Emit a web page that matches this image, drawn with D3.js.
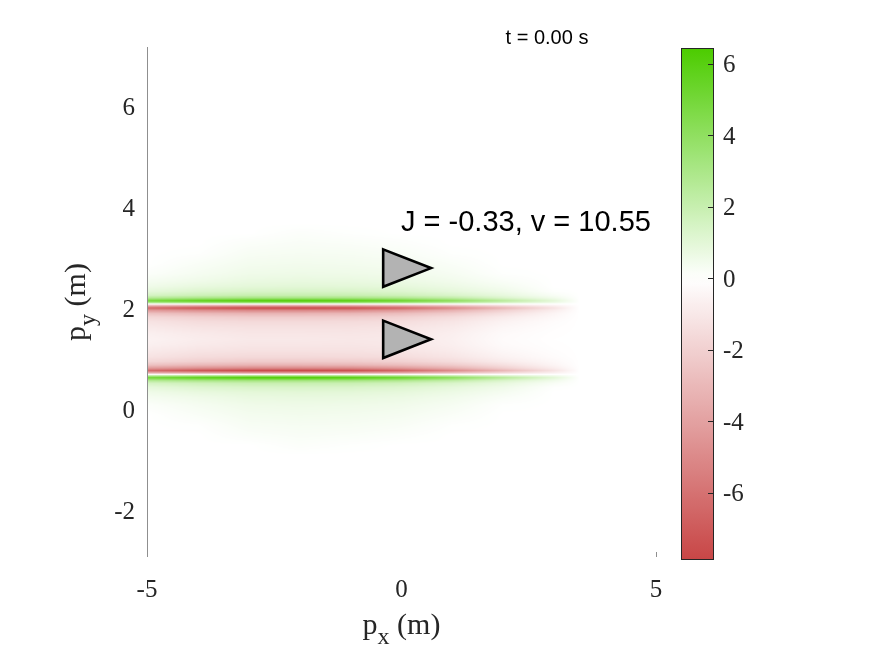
<!DOCTYPE html>
<html><head><meta charset="utf-8">
<script src="https://cdn.jsdelivr.net/npm/d3@7"></script>
<style>
body{margin:0;background:#fff}
#wrap{position:relative;width:875px;height:656px;background:#fff}
canvas,svg{position:absolute;left:0;top:0}
</style>
</head><body><div id="wrap"><canvas id="cv" width="875" height="656"></canvas><svg id="sv" width="875" height="656"></svg></div>
<script>
// ---------- data ----------
const xTicks = [-5, 0, 5];
const yTicks = [-2, 0, 2, 4, 6];
const cbTicks = [-6, -4, -2, 0, 2, 4, 6];
const xLimits = [-5, 5];
const yLimits = [-2.911, 7.188];
const colorLimits = [-7.86, 6.44];
const titleText = "t = 0.00 s";
const annotationText = "J = -0.33, v = 10.55";
const vehicleX = [0.1, 0.1];
const vehicleY = [2.81, 1.40];

// field sample grid (columns = x positions, rows = y positions)
const gridX = [-5, -4, -3, -2, -1, 0, 1, 2, 3, 3.5, 4, 5];
const gridY = [3.7, 3.5, 3.3, 3.1, 2.9, 2.7, 2.55, 2.45, 2.35, 2.27, 2.22, 2.16, 2.12, 2.10, 2.06, 2.02, 1.97, 1.91, 1.84, 1.75, 1.63, 1.51, 1.40,
               1.29, 1.17, 1.05, 0.96, 0.89, 0.83, 0.78, 0.74, 0.70, 0.68, 0.64, 0.58, 0.53, 0.45, 0.35, 0.25, 0.10, -0.10, -0.30, -0.50, -0.70, -0.90];
const fieldValues = [
  [0,0,0,0,0,0,0,0,0,0,0,0],
  [0,0,0,0.12,0.05,0,0,0,0,0,0,0],
  [0,0,0.15,0.22,0.18,0.1,0,0,0,0,0,0],
  [0,0.05,0.27,0.32,0.3,0.22,0.05,0,0,0,0,0],
  [0,0.2,0.4,0.45,0.42,0.35,0.18,0,0,0,0,0],
  [0.12,0.35,0.55,0.6,0.57,0.5,0.32,0.05,0,0,0,0],
  [0.35,0.55,0.75,0.8,0.77,0.68,0.48,0.2,0,0,0,0],
  [0.55,0.8,0.95,1.0,0.97,0.88,0.65,0.35,0,0,0,0],
  [0.9,1.2,1.35,1.4,1.35,1.2,0.9,0.55,0.05,0,0,0],
  [1.5,1.8,2.0,2.0,1.95,1.75,1.35,0.85,0.25,0,0,0],
  [2.6,3.0,3.2,3.2,3.1,2.8,2.2,1.3,0.5,0,0,0],
  [5.0,5.8,6.3,6.4,6.1,5.4,4.2,2.6,1.0,0,0,0],
  [2.4,2.8,3.0,3.0,2.9,2.6,2.0,1.2,0.5,0,0,0],
  [0,0,0,0,0,0,0,0,0,0,0,0],
  [-3.7,-4.2,-4.5,-4.5,-4.4,-3.9,-3.0,-1.8,-0.7,0,0,0],
  [-6.3,-7.2,-7.7,-7.75,-7.5,-6.6,-5.0,-3.1,-1.2,0,0,0],
  [-4.2,-4.7,-5.0,-5.0,-4.9,-4.3,-3.3,-2.0,-0.75,0,0,0],
  [-2.6,-3.0,-3.2,-3.2,-3.1,-2.8,-2.2,-1.35,-0.45,0,0,0],
  [-1.7,-2.0,-2.2,-2.2,-2.15,-1.95,-1.5,-0.85,-0.3,0,0,0],
  [-1.2,-1.5,-1.6,-1.6,-1.55,-1.45,-1.1,-0.55,-0.15,0,0,0],
  [-0.9,-1.15,-1.25,-1.25,-1.25,-1.15,-0.85,-0.35,-0.08,0,0,0],
  [-0.65,-0.9,-1.05,-1.05,-1.08,-1.0,-0.7,-0.22,-0.04,0,0,0],
  [-0.55,-0.8,-0.95,-0.95,-1.0,-0.95,-0.65,-0.18,-0.02,0,0,0],
  [-0.65,-0.9,-1.05,-1.05,-1.08,-1.0,-0.7,-0.22,-0.04,0,0,0],
  [-0.9,-1.15,-1.25,-1.25,-1.25,-1.15,-0.85,-0.35,-0.08,0,0,0],
  [-1.2,-1.5,-1.6,-1.6,-1.55,-1.45,-1.1,-0.55,-0.15,0,0,0],
  [-1.7,-2.0,-2.2,-2.2,-2.15,-1.95,-1.5,-0.85,-0.3,0,0,0],
  [-2.6,-3.0,-3.2,-3.2,-3.1,-2.8,-2.2,-1.35,-0.45,0,0,0],
  [-4.2,-4.7,-5.0,-5.0,-4.9,-4.3,-3.3,-2.0,-0.75,0,0,0],
  [-6.3,-7.2,-7.7,-7.75,-7.5,-6.6,-5.0,-3.1,-1.2,0,0,0],
  [-3.7,-4.2,-4.5,-4.5,-4.4,-3.9,-3.0,-1.8,-0.7,0,0,0],
  [0,0,0,0,0,0,0,0,0,0,0,0],
  [2.4,2.8,3.0,3.0,2.9,2.6,2.0,1.2,0.5,0,0,0],
  [5.0,5.8,6.3,6.4,6.1,5.4,4.2,2.6,1.0,0,0,0],
  [2.6,3.0,3.2,3.2,3.1,2.8,2.2,1.3,0.5,0,0,0],
  [1.5,1.8,2.0,2.0,1.95,1.75,1.35,0.85,0.25,0,0,0],
  [0.9,1.2,1.35,1.4,1.35,1.2,0.9,0.55,0.05,0,0,0],
  [0.55,0.8,0.95,1.0,0.97,0.88,0.65,0.35,0,0,0,0],
  [0.35,0.55,0.75,0.8,0.77,0.68,0.48,0.2,0,0,0,0],
  [0.12,0.35,0.55,0.6,0.57,0.5,0.32,0.05,0,0,0,0],
  [0,0.2,0.4,0.45,0.42,0.35,0.18,0,0,0,0,0],
  [0,0.05,0.27,0.32,0.3,0.22,0.05,0,0,0,0,0],
  [0,0,0.15,0.22,0.18,0.1,0,0,0,0,0,0],
  [0,0,0,0.12,0.05,0,0,0,0,0,0,0],
  [0,0,0,0,0,0,0,0,0,0,0,0]
];

// ---------- layout ----------
const plotL = 147, plotR = 656, plotT = 47, plotB = 557;
const cbL = 681, cbR = 713, cbT = 48, cbB = 559;
const tickFont = "'Liberation Serif','Times New Roman',serif";
const sansFont = "'Liberation Sans',Arial,Helvetica,sans-serif";

const x = d3.scaleLinear().domain(xLimits).range([plotL, plotR]);
const y = d3.scaleLinear().domain(yLimits).range([plotB, plotT]);
const color = d3.scaleLinear().domain([colorLimits[0], 0, colorLimits[1]])
  .range(["#c84646", "#ffffff", "#4ccc00"]).clamp(true);
const cbScale = d3.scaleLinear().domain(colorLimits).range([cbB, cbT]);

// ---------- field (bilinear shading of sampled grid) ----------
function fieldAt(xv, yv) {
  const nx = gridX.length, ny = gridY.length;
  if (xv < gridX[0] || xv > gridX[nx - 1] || yv > gridY[0] || yv < gridY[ny - 1]) return 0;
  let j = d3.bisectRight(gridX, xv) - 1; if (j >= nx - 1) j = nx - 2; if (j < 0) j = 0;
  let i = 0; while (i < ny - 2 && gridY[i + 1] >= yv) i++;
  const tx = (xv - gridX[j]) / (gridX[j + 1] - gridX[j]);
  const ty = (gridY[i] - yv) / (gridY[i] - gridY[i + 1]);
  const f = fieldValues;
  return (1 - tx) * (1 - ty) * f[i][j] + tx * (1 - ty) * f[i][j + 1] +
         (1 - tx) * ty * f[i + 1][j] + tx * ty * f[i + 1][j + 1];
}
const ctx = document.getElementById("cv").getContext("2d");
ctx.fillStyle = "#fff"; ctx.fillRect(0, 0, 875, 656);
const w = plotR - plotL, h = plotB - plotT;
const img = ctx.createImageData(w, h);
for (let py = 0; py < h; py++) {
  const yv = y.invert(plotT + py + 0.5);
  for (let px = 0; px < w; px++) {
    const xv = x.invert(plotL + px + 0.5);
    const c = d3.rgb(color(fieldAt(xv, yv)));
    const k = (py * w + px) * 4;
    img.data[k] = c.r; img.data[k + 1] = c.g; img.data[k + 2] = c.b; img.data[k + 3] = 255;
  }
}
ctx.putImageData(img, plotL, plotT);

// ---------- svg overlay ----------
const svg = d3.select("#sv");

// y axis line
svg.append("line").attr("x1", plotL + 0.5).attr("x2", plotL + 0.5).attr("y1", plotT).attr("y2", plotB)
  .attr("stroke", "#8f8f8f").attr("stroke-width", 1);
// small x tick at right end
svg.append("line").attr("x1", Math.round(x(5)) + 0.5).attr("x2", Math.round(x(5)) + 0.5)
  .attr("y1", plotB - 5).attr("y2", plotB).attr("stroke", "#8f8f8f");

svg.append("g").selectAll("text").data(yTicks).join("text")
  .attr("x", plotL - 12).attr("y", d => y(d) + 8.5)
  .attr("text-anchor", "end").attr("font-family", tickFont).attr("font-size", 25).attr("fill", "#262626")
  .text(d => d);
svg.append("g").selectAll("text").data(xTicks).join("text")
  .attr("x", d => x(d)).attr("y", 597)
  .attr("text-anchor", "middle").attr("font-family", tickFont).attr("font-size", 25).attr("fill", "#262626")
  .text(d => d);

// axis labels
const xl = svg.append("text").attr("x", x(0)).attr("y", 634).attr("text-anchor", "middle")
  .attr("font-family", tickFont).attr("font-size", 30).attr("fill", "#262626");
xl.append("tspan").text("p");
xl.append("tspan").attr("dy", 10).attr("font-size", 24).text("x");
xl.append("tspan").attr("dy", -10).text(" (m)");

const yl = svg.append("text").attr("transform", `translate(85,${(plotT + plotB) / 2}) rotate(-90)`)
  .attr("text-anchor", "middle").attr("font-family", tickFont).attr("font-size", 30).attr("fill", "#262626");
yl.append("tspan").text("p");
yl.append("tspan").attr("dy", 10).attr("font-size", 24).text("y");
yl.append("tspan").attr("dy", -10).text(" (m)");

// vehicles (triangles)
const triBack = 0.46, triFront = 0.48, triHalf = 0.37;
svg.append("g").selectAll("path").data(vehicleX.map((vx, k) => ({ vx, vy: vehicleY[k] }))).join("path")
  .attr("d", d => `M${x(d.vx - triBack)},${y(d.vy + triHalf)}L${x(d.vx + triFront)},${y(d.vy)}L${x(d.vx - triBack)},${y(d.vy - triHalf)}Z`)
  .attr("fill", "#b3b3b3").attr("stroke", "#000").attr("stroke-width", 2.6).attr("stroke-linejoin", "miter");

// annotation and title
svg.append("text").attr("x", 401).attr("y", 231).attr("font-family", sansFont).attr("font-size", 29)
  .attr("fill", "#000").text(annotationText);
svg.append("text").attr("x", 547).attr("y", 44).attr("text-anchor", "middle").attr("font-family", sansFont)
  .attr("font-size", 20).attr("fill", "#000").text(titleText);

// colorbar
const defs = svg.append("defs");
const grad = defs.append("linearGradient").attr("id", "cbg").attr("x1", 0).attr("x2", 0).attr("y1", 1).attr("y2", 0);
d3.range(0, 1.0001, 0.02).forEach(t => {
  const v = colorLimits[0] + t * (colorLimits[1] - colorLimits[0]);
  grad.append("stop").attr("offset", t).attr("stop-color", color(v));
});
svg.append("rect").attr("x", cbL + 0.5).attr("y", cbT + 0.5).attr("width", cbR - cbL).attr("height", cbB - cbT)
  .attr("fill", "url(#cbg)").attr("stroke", "#262626").attr("stroke-width", 1);
svg.append("g").selectAll("line").data(cbTicks).join("line")
  .attr("x1", cbR - 5).attr("x2", cbR).attr("y1", d => Math.round(cbScale(d)) + 0.5).attr("y2", d => Math.round(cbScale(d)) + 0.5)
  .attr("stroke", "#262626");
svg.append("g").selectAll("text").data(cbTicks).join("text")
  .attr("x", 723).attr("y", d => cbScale(d) + 8.5)
  .attr("font-family", tickFont).attr("font-size", 25).attr("fill", "#262626")
  .text(d => d);
</script></body></html>
